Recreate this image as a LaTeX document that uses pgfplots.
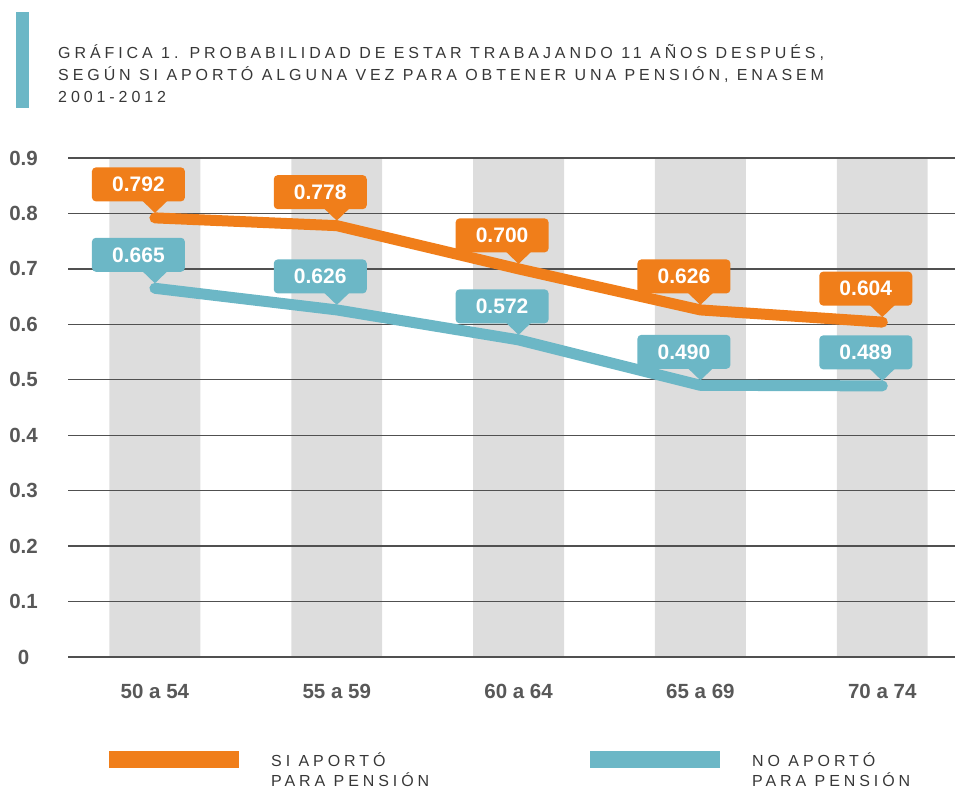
\documentclass[border=0pt]{standalone}
\usepackage{fontspec}
\setmainfont{Liberation Sans}
\newfontfamily\tracked[LetterSpace=24.5]{Liberation Sans}
\usepackage{pgfplots}
\pgfplotsset{compat=1.18}
\definecolor{orng}{RGB}{240,126,26}
\definecolor{tealc}{RGB}{108,183,198}
\definecolor{band}{RGB}{221,221,221}
\definecolor{gridc}{RGB}{80,80,80}
\definecolor{txt}{RGB}{88,88,88}
\definecolor{ttl}{RGB}{55,55,55}
\pgfdeclareplotmark{pointer}{%
  \pgfpathmoveto{\pgfqpoint{-13.5pt}{18pt}}%
  \pgfpathlineto{\pgfqpoint{13.5pt}{18pt}}%
  \pgfpathlineto{\pgfqpoint{0pt}{5pt}}%
  \pgfpathclose\pgfusepathqfill}
\tikzset{
  mybox/.style={
    anchor=south, xshift=-16.5pt, yshift=16.5pt, outer sep=0pt,
    fill=#1, text=white, rounded corners=4pt,
    font=\bfseries\fontsize{21}{21}\selectfont,
    minimum width=93pt, minimum height=34pt, inner sep=0pt}
}
\begin{document}
\begin{tikzpicture}[x=1pt,y=1pt]
\path (0,0) rectangle (956,-789);
\fill[tealc] (16,-12) rectangle (29,-108);
\node[anchor=base west, inner sep=0pt, align=left, text=ttl,
      font=\tracked\fontsize{16}{22.3}\selectfont] at (58,-102.8)
  {GRÁFICA 1. PROBABILIDAD DE ESTAR TRABAJANDO 11 AÑOS DESPUÉS,\\SEGÚN SI APORTÓ ALGUNA VEZ PARA OBTENER UNA PENSIÓN, ENASEM\\2001-2012};
\begin{axis}[
  at={(68pt,-657pt)}, anchor=south west, scale only axis,
  width=887pt, height=499pt,
  set layers,
  xmin=-0.478, xmax=4.4, ymin=0, ymax=0.9,
  axis line style={draw=none}, major tick length=0pt,
  ymajorgrids, grid style={gridc, line width=1.3pt},
  ytick={0,0.1,0.2,0.3,0.4,0.5,0.6,0.7,0.8,0.9},
  yticklabels={0,0.1,0.2,0.3,0.4,0.5,0.6,0.7,0.8,0.9},
  xtick={0,1,2,3,4},
  xticklabels={50 a 54,55 a 59,60 a 64,65 a 69,70 a 74},
  ticklabel style={font=\bfseries\fontsize{20.5}{20.5}\selectfont, text=txt},
  yticklabel style={anchor=center, xshift=-44.5pt},
  xticklabel style={anchor=center, yshift=-34pt},
  clip=false,
]
\addplot[ybar, bar width=0.5, fill=band, draw=none, on layer=axis background]
  coordinates {(0,0.9) (1,0.9) (2,0.9) (3,0.9) (4,0.9)};
\addplot[orng, line width=11pt, line cap=round, line join=round,
  mark=pointer, mark options={solid, fill=orng, draw=none},
  nodes near coords, point meta=explicit symbolic,
  every node near coord/.append style={mybox=orng}]
  coordinates {(0,0.792)[0.792] (1,0.778)[0.778] (2,0.700)[0.700] (3,0.626)[0.626] (4,0.604)[0.604]};
\addplot[tealc, line width=11pt, line cap=round, line join=round,
  mark=pointer, mark options={solid, fill=tealc, draw=none},
  nodes near coords, point meta=explicit symbolic,
  every node near coord/.append style={mybox=tealc}]
  coordinates {(0,0.665)[0.665] (1,0.626)[0.626] (2,0.572)[0.572] (3,0.490)[0.490] (4,0.489)[0.489]};
\end{axis}
\fill[orng] (109,-751) rectangle (239,-768);
\node[anchor=base west, inner sep=0pt, align=left, text=ttl,
      font=\tracked\fontsize{16}{20}\selectfont] at (271,-786)
  {SI APORTÓ\\PARA PENSIÓN};
\fill[tealc] (590,-751) rectangle (720,-768);
\node[anchor=base west, inner sep=0pt, align=left, text=ttl,
      font=\tracked\fontsize{16}{20}\selectfont] at (752,-786)
  {NO APORTÓ\\PARA PENSIÓN};
\end{tikzpicture}
\end{document}
